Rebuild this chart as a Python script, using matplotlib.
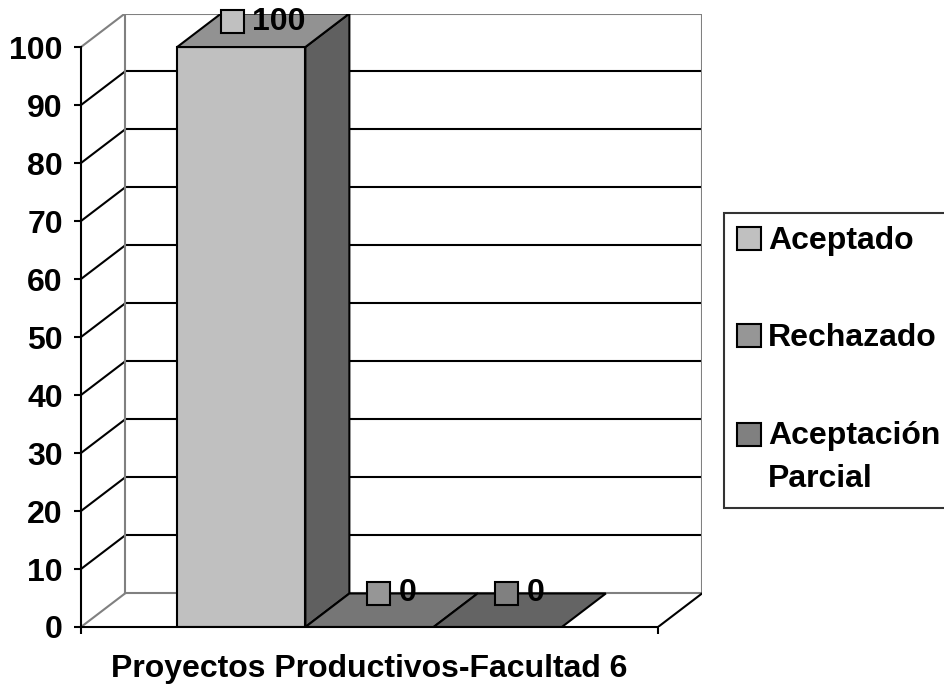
import matplotlib
matplotlib.use("Agg")
import matplotlib.pyplot as plt
from matplotlib.patches import Polygon, Patch, Rectangle
from matplotlib.legend_handler import HandlerPatch
from matplotlib.offsetbox import AnnotationBbox, DrawingArea, HPacker, TextArea

# data
series = ["Aceptado", "Rechazado", "Aceptación\nParcial"]
values = [100, 0, 0]
category = "Proyectos Productivos-Facultad 6"
yticks = list(range(0, 101, 10))

# front / top / side shading of each series
face_colors = ["#c0c0c0", "#969696", "#808080"]
top_colors = ["#929292", "#767676", "#646464"]
side_colors = ["#606060", "#4b4b4b", "#404040"]

GAP = 0.75          # space left and right of the bar group, in bar widths
BAR_W = 1.0
DEPTH_X = 0.343     # oblique depth offset in data units
DEPTH_Y = 5.78
X_END = 2 * GAP + len(values) * BAR_W
GRAY = "#808080"
LW = 1.5
FS = 23

plt.rcParams["font.family"] = ["Liberation Sans", "DejaVu Sans"]
plt.rcParams["font.weight"] = "bold"

fig = plt.figure(figsize=(9.44, 6.91), dpi=100)
ax = fig.add_axes([81 / 944, 64 / 691, 621 / 944, 613.5 / 691])
ax.set_xlim(0, X_END + DEPTH_X)
ax.set_ylim(0, 100 + DEPTH_Y)

# back wall, left wall and floor outline
for v in yticks:
    col = GRAY if v in (0, 100) else "black"
    ax.plot([DEPTH_X, X_END + DEPTH_X], [v + DEPTH_Y, v + DEPTH_Y], color=col, lw=LW, zorder=1)
    ax.plot([0, DEPTH_X], [v, v + DEPTH_Y], color=col, lw=LW, zorder=1)
ax.plot([DEPTH_X, DEPTH_X], [DEPTH_Y, 100 + DEPTH_Y], color=GRAY, lw=LW, zorder=1)
ax.plot([X_END + DEPTH_X] * 2, [DEPTH_Y, 100 + DEPTH_Y], color=GRAY, lw=LW, zorder=1)
ax.plot([X_END, X_END + DEPTH_X], [0, DEPTH_Y], color="black", lw=LW, zorder=1)

# 3d-looking bars
for i, v in enumerate(values):
    x0 = GAP + i * BAR_W
    x1 = x0 + BAR_W
    kw = dict(edgecolor="black", lw=LW, joinstyle="miter", zorder=3 + i)
    if v > 0:
        ax.add_patch(Polygon([(x0, 0), (x1, 0), (x1, v), (x0, v)], facecolor=face_colors[i], **kw))
        ax.add_patch(Polygon([(x1, 0), (x1 + DEPTH_X, DEPTH_Y), (x1 + DEPTH_X, v + DEPTH_Y), (x1, v)],
                             facecolor=side_colors[i], **kw))
    ax.add_patch(Polygon([(x0, v), (x1, v), (x1 + DEPTH_X, v + DEPTH_Y), (x0 + DEPTH_X, v + DEPTH_Y)],
                         facecolor=top_colors[i], **kw))

    # value label with legend key
    key = DrawingArea(17, 17, 0, 0)
    key.add_artist(Rectangle((0, 0), 17, 17, facecolor=face_colors[i], edgecolor="black", lw=LW))
    txt = TextArea(str(v), textprops=dict(fontsize=FS, fontweight="bold"))
    box = HPacker(children=[key, txt], align="center", pad=0, sep=6)
    label_y = min(v + DEPTH_Y, 100 + DEPTH_Y - 1.4)
    ax.add_artist(AnnotationBbox(box, (x0 + (BAR_W + DEPTH_X) / 2, label_y), frameon=False,
                                 box_alignment=(0.5, 0.5), zorder=10, annotation_clip=False))

# axes
for side in ("top", "right"):
    ax.spines[side].set_visible(False)
ax.spines["left"].set_bounds(0, 100)
ax.spines["bottom"].set_bounds(0, X_END)
for side in ("left", "bottom"):
    ax.spines[side].set_linewidth(LW)
    ax.spines[side].set_zorder(8)
ax.set_yticks(yticks)
ax.set_xticks([0, X_END])
ax.set_xticklabels([])
ax.tick_params(axis="both", direction="out", length=5, width=LW, labelsize=FS, pad=8)
ax.patch.set_visible(False)

ax.annotate(category, xy=(X_END / 2, 0), xytext=(0, -42), textcoords="offset pixels",
            ha="center", va="center", fontsize=FS, fontweight="bold", annotation_clip=False)


class FirstLineKey(HandlerPatch):
    """Square key lifted up to sit next to the first line of a two-line label."""

    def __init__(self, lift=0.0, **kw):
        super().__init__(**kw)
        self.lift = lift

    def create_artists(self, legend, orig_handle, xdescent, ydescent, width, height, fontsize, trans):
        return super().create_artists(legend, orig_handle, xdescent, ydescent - self.lift,
                                      width, height, fontsize, trans)


# legend runs off the right edge of the figure
handles = [Patch(facecolor=c, edgecolor="black", linewidth=LW) for c in face_colors]
leg = fig.legend(handles, series, loc="upper left", mode="expand",
                 bbox_to_anchor=(724 / 944, 1 - 213 / 691, 240 / 944, 0),
                 borderaxespad=0, fontsize=FS, frameon=True, fancybox=False, edgecolor="black",
                 handlelength=0.75, handleheight=0.75, handletextpad=0.2, labelspacing=2.1,
                 borderpad=0.42, handler_map={handles[2]: FirstLineKey(lift=17)})
leg.get_frame().set_linewidth(LW)
for t in leg.get_texts():
    t.set_fontweight("bold")
    t.set_linespacing(1.6)

fig.savefig("out.png", dpi=100)
